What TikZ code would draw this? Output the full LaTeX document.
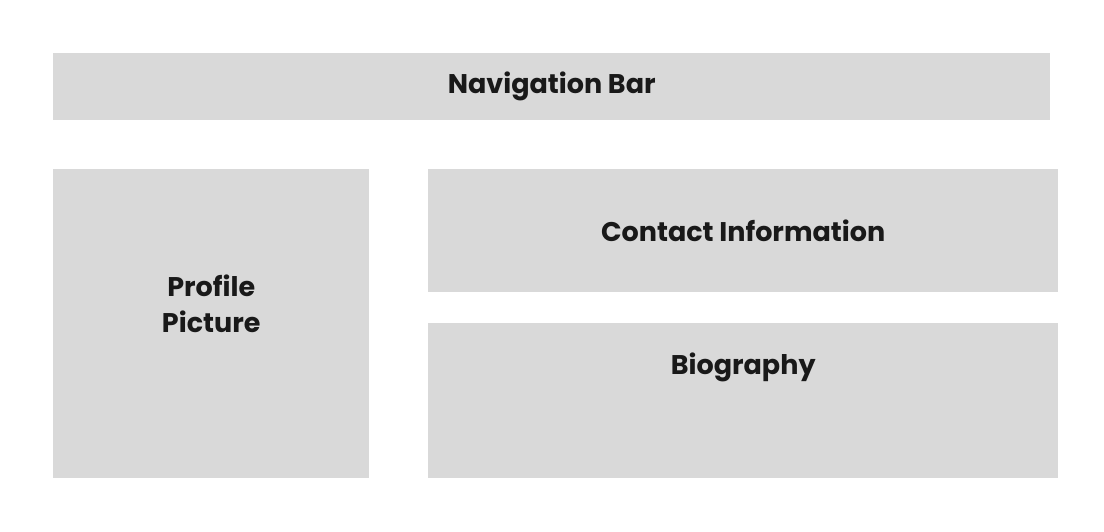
\documentclass[tikz,border=0pt]{standalone}
\usepackage{fontspec}
\setmainfont{Poppins}
\usetikzlibrary{positioning, calc}

\begin{document}
\begin{tikzpicture}[
            x=1pt, y=-1pt,
            box/.style={fill=black!15, draw=none, anchor=north west, inner sep=0pt},
            label/.style={font=\bfseries\fontsize{27}{36}\selectfont, align=center, text=black!90}
        ]
        \useasboundingbox (0,0) rectangle (1104,532);

        % Boxes
        \node[box, minimum width=997pt, minimum height=67pt] (nav) at (53,53) {};
        \node[box, minimum width=316pt, minimum height=309pt] (pic) at (53,169) {};
        \node[box, minimum width=630pt, minimum height=123pt] (contact) at (428,169) {};
        \node[box, minimum width=630pt, minimum height=155pt] (bio) at (428,323) {};

        % Labels
        \node[label] (navtext) at (nav.center) {Navigation Bar};
        \node[label] (pictext) at ($(pic.north)+(0,135)$) {Profile\\Picture};
        \node[label] (contacttext) at (contact.center) {Contact Information};
        \node[label] (biotext) at ($(bio.north)+(0,44)$) {Biography};

    \end{tikzpicture}
\end{document}
